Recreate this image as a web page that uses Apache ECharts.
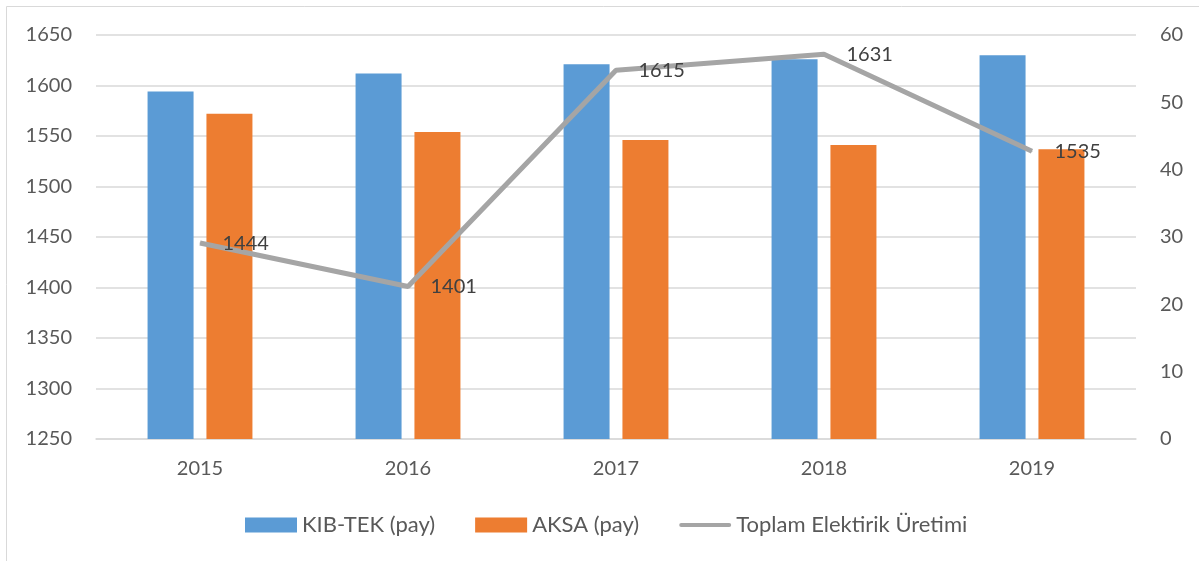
<!DOCTYPE html>
<html>
<head>
<meta charset="utf-8">
<script src="https://cdn.jsdelivr.net/npm/echarts@6/dist/echarts.min.js"></script>
<style>
  html, body { margin: 0; padding: 0; background: #fff; }
  #chart { width: 1199px; height: 561px; }
</style>
</head>
<body>
<div id="chart"></div>
<script>
const years = ['2015', '2016', '2017', '2018', '2019'];
const kibtek = [1594, 1612, 1621, 1626, 1630];
const aksa = [1572, 1554, 1546, 1541, 1537];
const toplam = [1444, 1401, 1615, 1631, 1535];

const font = 'Lato, "Open Sans", sans-serif';

const chart = echarts.init(document.getElementById('chart'));
chart.setOption({
  animation: false,
  textStyle: { fontFamily: font },
  graphic: [{
    type: 'rect',
    shape: { x: 6.5, y: 6.5, width: 1220, height: 600 },
    style: { fill: 'none', stroke: '#d9d9d9', lineWidth: 1 }
  }],
  grid: { left: 96, right: 63, top: 35, bottom: 122 },
  legend: {
    top: 509,
    left: 240,
    itemGap: 40,
    itemWidth: 52,
    itemHeight: 15,
    textStyle: { fontSize: 22, color: '#595959', fontFamily: font },
    data: [
      { name: 'KIB-TEK (pay)', icon: 'rect' },
      { name: 'AKSA (pay)', icon: 'rect' },
      { name: 'Toplam Elektirik Üretimi',
        icon: 'path://M0,0 M52,15 M2,5.5 L50,5.5 A2,2 0 0 1 50,9.5 L2,9.5 A2,2 0 0 1 2,5.5 Z',
        itemStyle: { color: '#A5A5A5' } }
    ]
  },
  xAxis: {
    type: 'category',
    data: years,
    axisTick: { show: false },
    axisLine: { lineStyle: { color: '#d9d9d9', width: 1.5 } },
    axisLabel: { fontSize: 20, color: '#595959', margin: 20, fontFamily: font }
  },
  yAxis: [{
    type: 'value',
    min: 1250,
    max: 1650,
    interval: 50,
    axisLine: { show: false },
    axisTick: { show: false },
    splitLine: { lineStyle: { color: '#d9d9d9', width: 1.5 } },
    axisLabel: { fontSize: 20, color: '#595959', margin: 24, fontFamily: font,
      formatter: v => String(v) }
  }, {
    type: 'value',
    min: 0,
    max: 60,
    interval: 10,
    axisLine: { show: false },
    axisTick: { show: false },
    splitLine: { show: false },
    axisLabel: { fontSize: 20, color: '#595959', margin: 24, fontFamily: font }
  }],
  series: [{
    name: 'KIB-TEK (pay)',
    type: 'bar',
    data: kibtek,
    barWidth: 46,
    barGap: '28%',
    itemStyle: { color: '#5B9BD5' }
  }, {
    name: 'AKSA (pay)',
    type: 'bar',
    data: aksa,
    barWidth: 46,
    barGap: '28%',
    itemStyle: { color: '#ED7D31' }
  }, {
    name: 'Toplam Elektirik Üretimi',
    type: 'line',
    data: toplam,
    symbol: 'circle',
    symbolSize: 1,
    lineStyle: { color: '#A5A5A5', width: 5 },
    itemStyle: { color: '#A5A5A5' },
    label: {
      show: true,
      position: 'right',
      distance: 22,
      fontSize: 20,
      color: '#404040',
      fontFamily: font
    },
    z: 5
  }]
});
</script>
</body>
</html>
